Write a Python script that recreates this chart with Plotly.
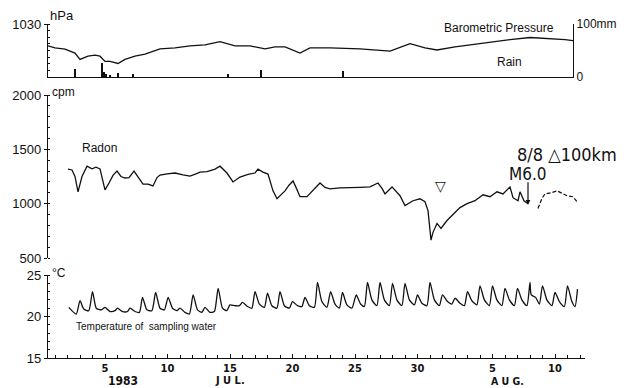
import plotly.graph_objects as go

# ---------------- data (day of July 1983; Aug n = day 31+n) ----------------
press_day = [0.44, 1.0, 1.8, 2.6, 3.0, 3.64, 4.2, 4.6, 5.0, 5.4, 6.04, 6.6, 7.4, 8.2, 9.4,
             10.6, 11.8, 13.0, 14.2, 15.4, 16.6, 17.8, 18.6, 19.4, 20.6, 21.4, 23.0, 25.4,
             27.8, 29.4, 30.6, 31.56, 33.0, 34.2, 35.8, 37.4, 39.0, 40.6, 41.8, 42.44]
press_hpa = [1013.5, 1012.0, 1011.0, 1008.0, 1003.3, 1005.7, 1006.5, 1005.7, 1001.8, 1001.8,
             1000.2, 1003.3, 1005.7, 1007.3, 1011.2, 1012.0, 1013.5, 1014.3, 1016.7, 1013.5,
             1013.5, 1011.2, 1012.7, 1012.7, 1008.0, 1012.0, 1012.0, 1011.2, 1009.6, 1015.1,
             1012.0, 1010.4, 1012.7, 1014.3, 1015.9, 1018.2, 1019.8, 1019.0, 1018.2, 1017.5]

rain_day = [2.6, 4.76, 4.9, 5.1, 5.4, 6.04, 7.24, 14.84, 17.5, 24.04]
rain_mm = [15, 26, 9, 5, 4, 7, 5, 5, 13, 11]

radon_day = [2.04, 2.36, 2.6, 2.84, 3.16, 3.56, 3.96, 4.28, 4.6, 4.84, 5.0, 5.32, 5.64, 5.96,
             6.28, 6.6, 6.92, 7.32, 7.56, 7.8, 8.04, 8.44, 8.84, 9.16, 9.4, 9.96, 10.6, 11.24,
             11.8, 12.28, 12.6, 13.16, 13.8, 14.2, 14.52, 14.76, 15.24, 15.8, 16.44, 17.0,
             17.24, 17.64, 18.04, 18.2, 18.44, 18.76, 19.08, 19.4, 19.72, 20.04, 20.28, 20.6,
             21.16, 21.64, 22.2, 22.6, 23.0, 23.8, 24.76, 25.4, 26.2, 26.84, 27.16, 27.4,
             27.96, 28.28, 28.6, 29.0, 29.64, 30.2, 30.6, 30.84, 31.08, 31.24, 31.56, 31.88,
             32.36, 33.0, 33.4, 33.96, 34.6, 35.24, 35.8, 36.36, 36.84, 37.4, 37.64, 38.04,
             38.2, 38.52, 38.84]
radon_cpm = [1318, 1310, 1250, 1109, 1250, 1345, 1320, 1335, 1320, 1200, 1127, 1190, 1260, 1300,
             1250, 1236, 1240, 1300, 1260, 1227, 1180, 1180, 1163, 1240, 1263, 1275, 1282, 1265,
             1254, 1275, 1290, 1295, 1318, 1345, 1310, 1282, 1200, 1245, 1270, 1282,
             1318, 1290, 1272, 1200, 1118, 1045, 1080, 1118, 1170, 1209, 1150, 1064,
             1064, 1118, 1190, 1150, 1136, 1145, 1145, 1150, 1154, 1190, 1140, 1090,
             1154, 1110, 1073, 982, 1027, 1045, 1018, 936, 664, 736, 818, 773,
             845, 918, 964, 1000, 1027, 1082, 1064, 1109, 1090, 1154, 1055, 1027,
             1109, 1027, 1000]
radon2_day = [39.64, 39.96, 40.2, 40.68, 41.16, 41.56, 41.96, 42.44, 42.76]
radon2_cpm = [955, 1050, 1090, 1100, 1118, 1095, 1073, 1064, 1018]

temp_day = [2.1, 2.7, 3.0, 3.3, 3.7, 4.0, 4.3, 4.7, 5.0, 5.4, 5.8, 6.0, 6.4, 6.8, 7.0, 7.4, 7.75,
            8.0, 8.35, 8.75, 9.05, 9.4, 9.75, 10.05, 10.4, 10.75, 11.0, 11.4, 11.75, 12.05,
            12.4, 12.75, 13.0, 13.4, 13.75, 14.05, 14.4, 14.75, 15.0, 15.4, 15.75, 16.0, 16.4,
            16.75, 17.0, 17.35, 17.75, 18.0, 18.35, 18.75, 19.0, 19.35, 19.75, 20.0, 20.4,
            20.75, 21.0, 21.35, 21.75, 22.0, 22.35, 22.75, 23.05, 23.4, 23.75, 24.0, 24.35,
            24.75, 25.1, 25.45, 25.75, 26.0, 26.35, 26.75, 27.0, 27.35, 27.75, 28.0, 28.35,
            28.75, 29.0, 29.35, 29.75, 30.0, 30.35, 30.75, 31.0, 31.35, 31.75, 32.0, 32.4,
            32.75, 33.0, 33.4, 33.75, 34.0, 34.35, 34.75, 35.0, 35.35, 35.75, 36.0, 36.35,
            36.75, 37.0, 37.35, 37.75, 38.0, 38.35, 38.75, 39.0, 39.1, 39.45, 39.75, 40.0,
            40.35, 40.75, 41.0, 41.35, 41.75, 42.0, 42.35, 42.6, 42.8]
temp_c = [21.1, 20.3, 21.9, 20.9, 20.7, 23.0, 21.0, 20.8, 21.1, 20.6, 20.7, 21.0, 20.6, 20.6,
          21.0, 20.6, 20.5, 22.3, 20.8, 20.7, 22.9, 21.0, 20.8, 22.3, 21.0, 20.7, 21.0, 20.5,
          20.3, 22.6, 20.8, 20.5, 21.1, 20.5, 20.6, 23.4, 21.0, 20.7, 21.4, 21.3, 21.3, 21.7,
          21.2, 21.0, 23.0, 21.5, 21.1, 22.8, 21.3, 21.0, 23.0, 21.3, 21.0, 21.8, 21.3, 21.2,
          22.3, 21.3, 21.1, 24.1, 21.8, 21.1, 23.0, 21.5, 21.0, 22.9, 21.4, 21.0, 22.6, 21.5,
          21.2, 24.1, 22.0, 21.3, 24.1, 22.0, 21.3, 24.0, 22.0, 21.3, 24.0, 22.0, 21.4, 22.6,
          21.6, 21.3, 24.1, 22.0, 21.3, 22.6, 21.8, 21.5, 22.2, 21.6, 21.3, 23.0, 21.9, 21.4,
          23.7, 22.0, 21.3, 23.7, 22.0, 21.3, 23.4, 22.0, 21.3, 23.4, 22.0, 21.3, 24.1, 22.6,
          22.3, 21.5, 23.7, 22.0, 21.3, 22.9, 21.8, 21.2, 23.7, 21.8, 21.2, 23.3]

x_tickvals = [5, 10, 15, 20, 25, 30, 36, 41]
x_ticktext = ["5", "10", "15", "20", "25", "30", "5", "10"]

# ---------------- figure ----------------
BLACK = "#111111"
FONT = "Liberation Sans, Arial, sans-serif"
NARROW = "Liberation Sans Narrow, DejaVu Sans Condensed, sans-serif"

fig = go.Figure()
fig.add_trace(go.Scatter(x=press_day, y=press_hpa, mode="lines", xaxis="x2", yaxis="y",
                         line=dict(color=BLACK, width=1.3), showlegend=False))
fig.add_trace(go.Bar(x=rain_day, y=rain_mm, xaxis="x2", yaxis="y2", width=0.1,
                     marker=dict(color=BLACK, line=dict(width=0)), showlegend=False))
fig.add_trace(go.Scatter(x=radon_day, y=radon_cpm, mode="lines", xaxis="x", yaxis="y4",
                         line=dict(color=BLACK, width=1.3), showlegend=False))
fig.add_trace(go.Scatter(x=radon2_day, y=radon2_cpm, mode="lines", xaxis="x", yaxis="y4",
                         line=dict(color=BLACK, width=1.2, dash="4px,2px"), showlegend=False))
fig.add_trace(go.Scatter(x=temp_day, y=temp_c, mode="lines", xaxis="x", yaxis="y5",
                         line=dict(color=BLACK, width=1.3, shape="spline", smoothing=0.6),
                         showlegend=False))

# page pixel (the page body adds an 8px offset) -> paper fraction of the plot area
H = 343.0
def py(pix):
    return (358 - pix) / H

def px(pix):
    return (pix - 48) / 537.0

def ax(**kw):
    base = dict(showgrid=False, zeroline=False, linecolor=BLACK, linewidth=1.3,
                automargin=False, tickcolor=BLACK,
                tickfont=dict(family=FONT, size=13, color=BLACK))
    base.update(kw)
    return base

fig.update_layout(
    width=621, height=380,
    margin=dict(l=40, r=44, t=7, b=30, autoexpand=False),
    paper_bgcolor="white", plot_bgcolor="white",
    font=dict(family=FONT, color=BLACK),
    bargap=0,
    xaxis=ax(domain=[0, 1], range=[0.44, 43.4], anchor="y5",
             showline=True, ticks="inside", ticklen=4, tickvals=x_tickvals,
             ticktext=x_ticktext,
             tickfont=dict(family=NARROW, size=11, color=BLACK, weight="bold"),
             minor=dict(ticks="inside", ticklen=3, dtick=1, tick0=0, tickcolor=BLACK)),
    xaxis2=ax(domain=[0, 0.9777], range=[0.44, 42.44], anchor="y",
              showline=True, ticks="", showticklabels=False),
    yaxis=ax(domain=[py(77), py(24)], range=[990, 1030], anchor="x2",
             showline=True, ticks="outside", ticklen=3, tickvals=[1030],
             minor=dict(ticks="inside", ticklen=2, dtick=5, tickcolor=BLACK)),
    yaxis2=ax(overlaying="y", side="right", anchor="x2", range=[0, 100],
              showline=True, ticks="inside", ticklen=3, tickvals=[0, 100],
              ticktext=["0", "100mm"], tickfont=dict(family=FONT, size=12, color=BLACK)),
    yaxis3=ax(overlaying="y", side="left", anchor="x2", range=[0, 100],
              showline=False, ticks="", tickvals=[0]),
    yaxis4=ax(domain=[py(258), py(95)], range=[500, 2000], anchor="x",
              showline=True, ticks="outside", ticklen=3, tickvals=[500, 1000, 1500, 2000],
              minor=dict(ticks="inside", ticklen=2, dtick=100, tickcolor=BLACK)),
    yaxis5=ax(domain=[0, py(275)], range=[15, 25], anchor="x",
              showline=True, ticks="outside", ticklen=3, tickvals=[15, 20, 25],
              minor=dict(ticks="inside", ticklen=2, dtick=1, tickcolor=BLACK)),
)

ann = []
def text(s, x, y, xref="paper", yref="paper", size=12, xanchor="center", family=FONT):
    ann.append(dict(text=s, x=x, y=y, xref=xref, yref=yref, showarrow=False,
                    xanchor=xanchor, yanchor="middle",
                    font=dict(family=family, size=size, color=BLACK)))

text("hPa", px(48), py(15), size=13, xanchor="left")
text("Barometric Pressure", px(499), py(28), size=12)
text("Rain", px(509), py(62), size=12)
text("cpm", px(50), py(92), size=12, xanchor="left")
text("Radon", 4.52, 1509, xref="x", yref="y4", size=12)
text("°C", px(50), py(273), size=12, xanchor="left")
text("Temperature of  sampling water", 8.28, 18.8, xref="x", yref="y5", size=10)
text("▽", 31.8, 1164, xref="x", yref="y4", size=14)
text("8/8 △100km", 41.96, 1455, xref="x", yref="y4", size=18, family=NARROW)
text("M6.0", 38.84, 1273, xref="x", yref="y4", size=17, family=NARROW)
text("<b>1983</b>", px(123), py(380.5), size=12, family=NARROW)
text("<b>J U L.</b>", px(230), py(380.5), size=11, family=NARROW)
text("<b>A U G.</b>", px(507), py(381), size=10.5, family=NARROW)
ann.append(dict(text="", x=38.84, y=990, xref="x", yref="y4", ax=0, ay=-24,
                showarrow=True, arrowhead=2, arrowsize=0.8, arrowwidth=1.2, arrowcolor=BLACK))

fig.update_layout(annotations=ann)
fig.write_html("out.html")
